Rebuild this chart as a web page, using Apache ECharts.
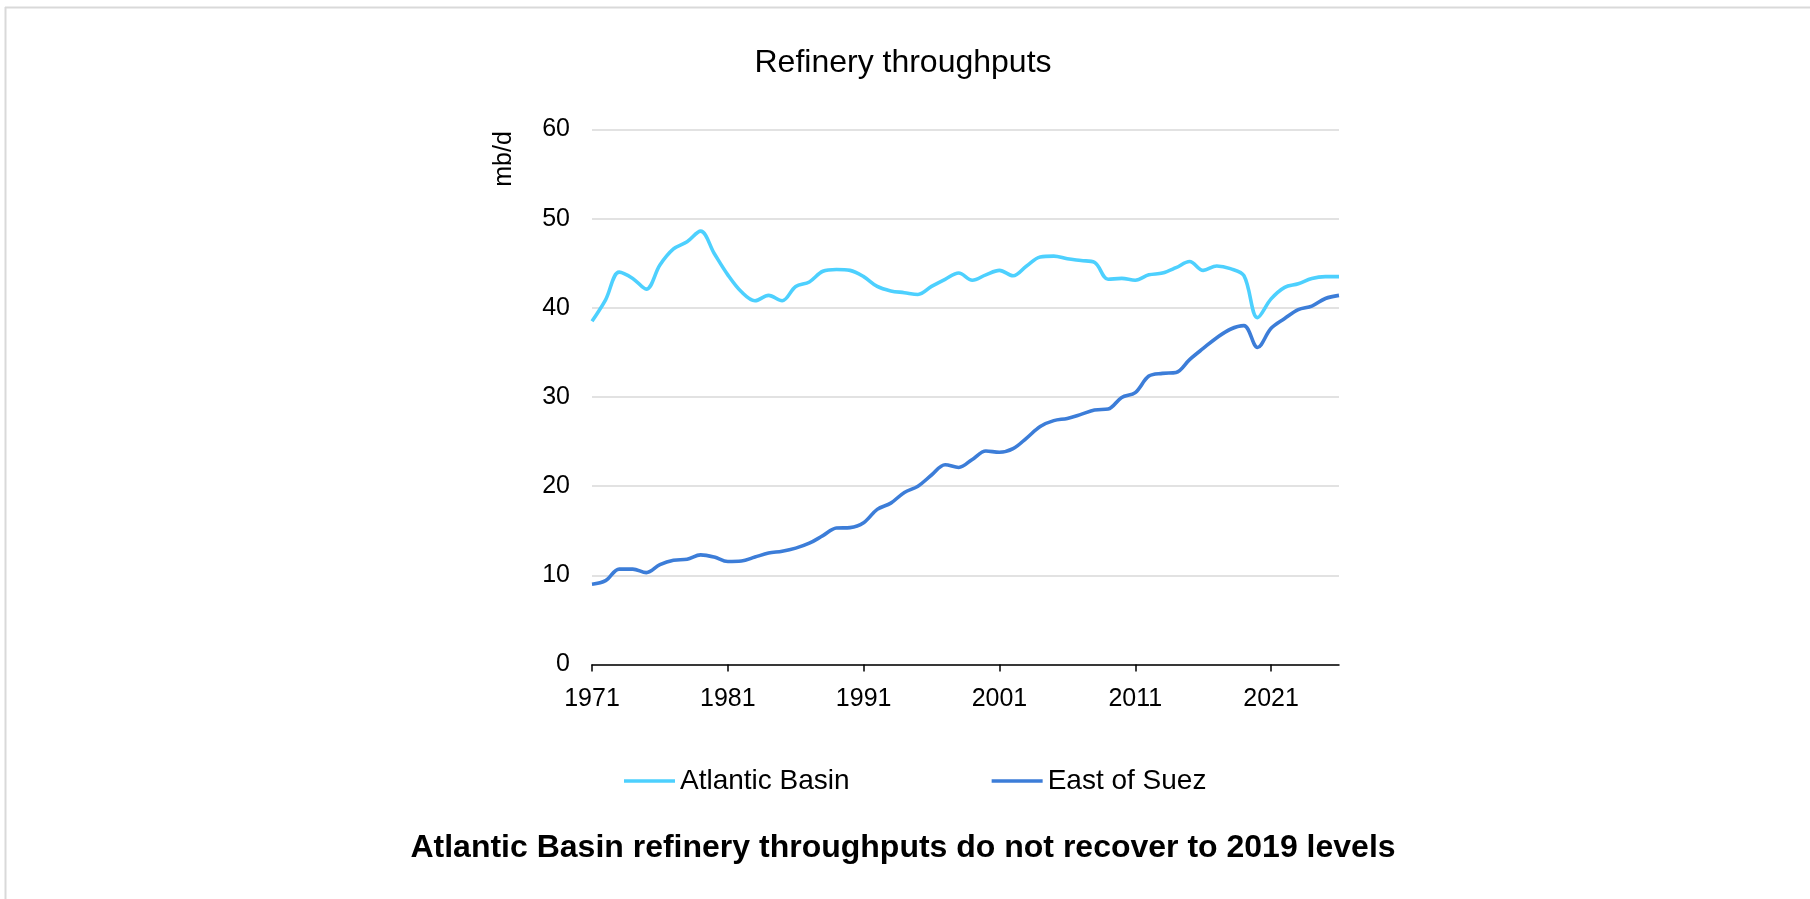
<!DOCTYPE html>
<html>
<head>
<meta charset="utf-8">
<script src="https://cdn.jsdelivr.net/npm/echarts@6/dist/echarts.min.js"></script>
<style>
html,body{margin:0;padding:0;background:#fff;}
#chart{width:1810px;height:899px;}
</style>
</head>
<body>
<div id="chart"></div>
<script>
const years = ['1971','1972','1973','1974','1975','1976','1977','1978','1979','1980',
  '1981','1982','1983','1984','1985','1986','1987','1988','1989','1990',
  '1991','1992','1993','1994','1995','1996','1997','1998','1999','2000',
  '2001','2002','2003','2004','2005','2006','2007','2008','2009','2010',
  '2011','2012','2013','2014','2015','2016','2017','2018','2019','2020',
  '2021','2022','2023','2024','2025','2026'];

const atlanticBasin = [38.5,40.9,44.0,43.3,42.1,44.8,46.6,47.4,48.6,46.1,
  43.7,41.8,40.8,41.4,40.8,42.4,42.9,44.1,44.3,44.2,
  43.5,42.4,41.9,41.7,41.5,42.4,43.2,43.9,43.1,43.7,
  44.2,43.6,44.7,45.7,45.8,45.5,45.3,45.1,43.2,43.3,
  43.1,43.7,43.9,44.5,45.2,44.2,44.7,44.4,43.6,38.9,
  41.0,42.3,42.7,43.3,43.5,43.5];

const eastOfSuez = [9.0,9.4,10.7,10.7,10.3,11.2,11.7,11.8,12.3,12.05,
  11.55,11.6,12.05,12.5,12.7,13.05,13.6,14.45,15.3,15.35,
  15.9,17.4,18.1,19.3,20.0,21.25,22.4,22.1,23.0,23.95,
  23.8,24.2,25.4,26.7,27.35,27.6,28.05,28.55,28.65,29.95,
  30.5,32.35,32.65,32.75,34.2,35.45,36.65,37.6,38.0,35.55,
  37.7,38.8,39.8,40.2,41.05,41.4];

const seriesNames = ['Atlantic Basin', 'East of Suez'];
const chartTitle = 'Refinery throughputs';
const caption = 'Atlantic Basin refinery throughputs do not recover to 2019 levels';
const unitLabel = 'mb/d';

const FONT = '"Liberation Sans", Arial, sans-serif';
const chart = echarts.init(document.getElementById('chart'), null, {renderer: 'canvas'});
chart.setOption({
  backgroundColor: '#fff',
  animation: false,
  title: [
    {text: chartTitle, left: 903, top: 47, textAlign: 'center', padding: 0,
     textStyle: {fontFamily: FONT, fontSize: 32, fontWeight: 'normal', color: '#000'}},
    {text: caption, left: 903, top: 832, textAlign: 'center', padding: 0,
     textStyle: {fontFamily: FONT, fontSize: 32, fontWeight: 'bold', color: '#000'}}
  ],
  graphic: [
    {type: 'line', shape: {x1: 5, y1: 7.5, x2: 1810, y2: 7.5}, style: {stroke: '#d9d9d9', lineWidth: 2}},
    {type: 'line', shape: {x1: 5.5, y1: 7, x2: 5.5, y2: 899}, style: {stroke: '#d9d9d9', lineWidth: 2}},
    {type: 'text', x: 504, y: 159, rotation: Math.PI / 2,
     style: {text: unitLabel, fontFamily: FONT, fontSize: 25, fill: '#000', textAlign: 'center', textVerticalAlign: 'middle'}}
  ],
  legend: {
    data: seriesNames,
    left: 624, top: 767, padding: 0,
    icon: 'rect', itemWidth: 51, itemHeight: 3.5, itemGap: 142,
    textStyle: {fontFamily: FONT, fontSize: 28, color: '#000'}
  },
  grid: {left: 592, right: 471, top: 129.5, bottom: 234.5, containLabel: false},
  xAxis: {
    type: 'category', data: years, boundaryGap: false,
    axisLine: {lineStyle: {color: '#000', width: 1.5}},
    axisTick: {interval: 9, length: 7, lineStyle: {color: '#000', width: 1.5}},
    axisLabel: {interval: 9, margin: 22, fontFamily: FONT, fontSize: 25, color: '#000'},
    splitLine: {show: false}
  },
  yAxis: {
    type: 'value', min: 0, max: 60, interval: 10,
    axisLine: {show: false}, axisTick: {show: false},
    axisLabel: {margin: 22, fontFamily: FONT, fontSize: 25, color: '#000'},
    splitLine: {lineStyle: {color: '#d9d9d9', width: 1.5}}
  },
  series: [
    {name: seriesNames[0], type: 'line', data: atlanticBasin, smooth: 0.35, symbol: 'none',
     color: '#4dd0fe', lineStyle: {width: 3.6, color: '#4dd0fe'}},
    {name: seriesNames[1], type: 'line', data: eastOfSuez, smooth: 0.35, symbol: 'none',
     color: '#3c7dd8', lineStyle: {width: 3.6, color: '#3c7dd8'}}
  ]
});
</script>
</body>
</html>
